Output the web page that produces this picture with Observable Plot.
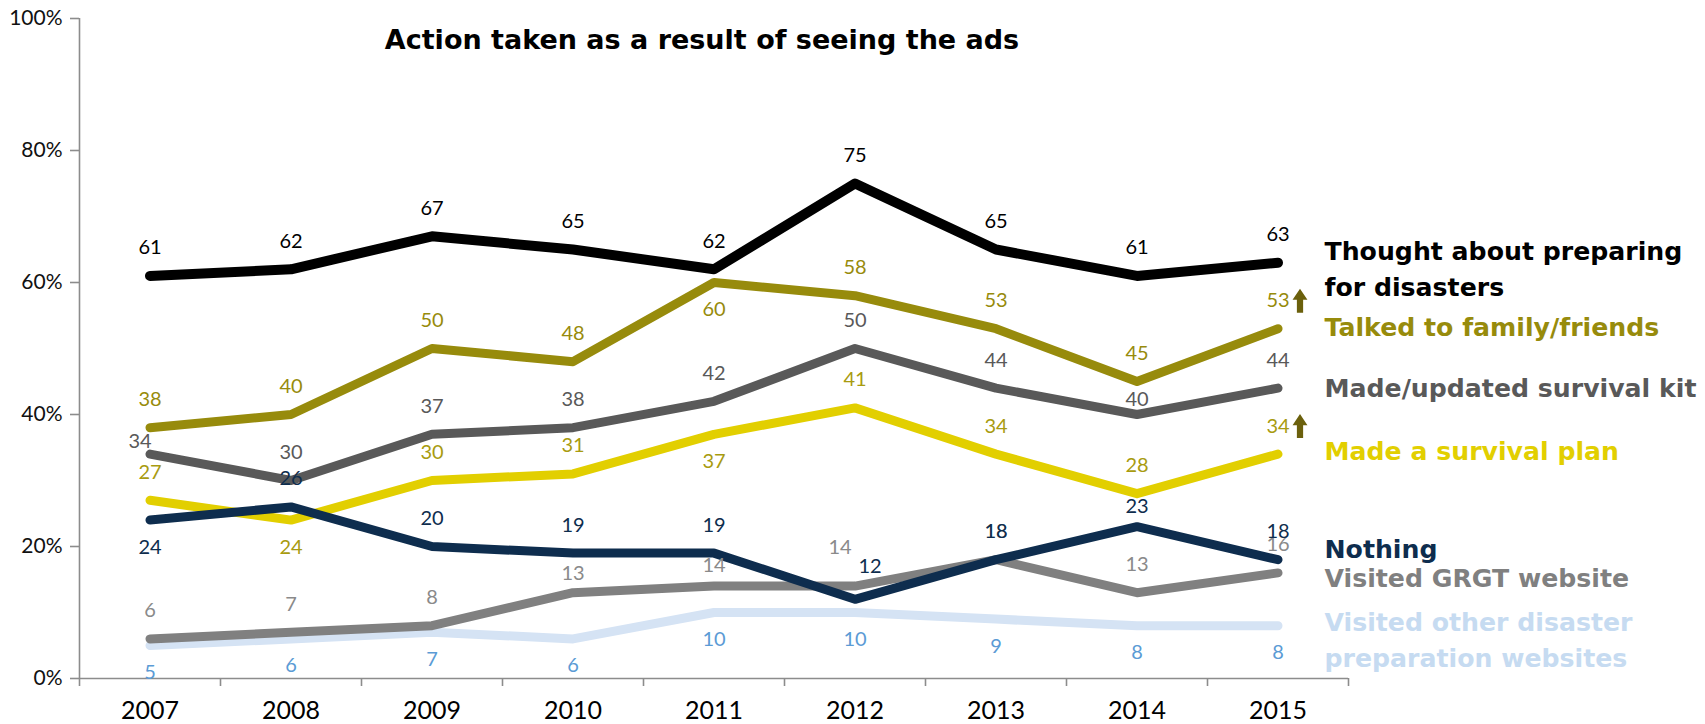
<!DOCTYPE html>
<html>
<head>
<meta charset="utf-8">
<script src="https://cdn.jsdelivr.net/npm/d3@7"></script>
<script src="https://cdn.jsdelivr.net/npm/@observablehq/plot@0.6"></script>
<style>
  html, body { margin: 0; padding: 0; background: #fff; }
  #chart svg { display: block; }
</style>
</head>
<body>
<div id="chart"></div>
<script>
// ---------------- data ----------------
const years = ["2007", "2008", "2009", "2010", "2011", "2012", "2013", "2014", "2015"];
const thoughtAboutPreparing = [61, 62, 67, 65, 62, 75, 65, 61, 63];
const talkedToFamilyFriends = [38, 40, 50, 48, 60, 58, 53, 45, 53];
const madeUpdatedSurvivalKit = [34, 30, 37, 38, 42, 50, 44, 40, 44];
const madeSurvivalPlan = [27, 24, 30, 31, 37, 41, 34, 28, 34];
const nothingDone = [24, 26, 20, 19, 19, 12, 18, 23, 18];
const visitedGRGTWebsite = [6, 7, 8, 13, 14, 14, 18, 13, 16];
const visitedOtherWebsites = [5, 6, 7, 6, 10, 10, 9, 8, 8];
const yTicks = [0, 20, 40, 60, 80, 100];
const chartTitle = "Action taken as a result of seeing the ads";
const seriesLabels = {
  thought: "Thought about preparing\nfor disasters",
  talked: "Talked to family/friends",
  kit: "Made/updated survival kit",
  plan: "Made a survival plan",
  nothing: "Nothing",
  grgt: "Visited GRGT website",
  other: "Visited other disaster\npreparation websites"
};
// years where the value label sits below the line
const labelsBelow = {
  talked: ["2011"],
  plan: ["2008", "2011"],
  nothing: ["2007"],
  other: years
};
// series marked with a significant-increase arrow in the last year
const significantIncrease = ["talked", "plan"];

// ---------------- styles / layout ----------------
const styles = {
  other:   {values: visitedOtherWebsites,   line: "#d5e3f4", label: "#5b9bd5", legend: "#c6dbf1", width: 9,  legendAt: 8.0},
  grgt:    {values: visitedGRGTWebsite,     line: "#808080", label: "#8a8a8a", legend: "#808080", width: 9,  legendAt: 14.6},
  plan:    {values: madeSurvivalPlan,       line: "#e2cf00", label: "#a89b10", legend: "#e2cf00", width: 9,  legendAt: 33.9},
  kit:     {values: madeUpdatedSurvivalKit, line: "#595959", label: "#595959", legend: "#595959", width: 9,  legendAt: 43.4},
  talked:  {values: talkedToFamilyFriends,  line: "#978b0c", label: "#978b0c", legend: "#978b0c", width: 9,  legendAt: 52.7},
  thought: {values: thoughtAboutPreparing,  line: "#000000", label: "#000000", legend: "#000000", width: 10, legendAt: 64.2},
  nothing: {values: nothingDone,            line: "#0e2d4e", label: "#0e2d4e", legend: "#0e2d4e", width: 9,  legendAt: 19.0}
};
const drawOrder = ["other", "grgt", "plan", "kit", "talked", "thought", "nothing"];
// pixel nudges for crowded value labels: [dx, dy]
const labelNudge = {
  "kit 2007": [-10, -13],
  "kit 2014": [0, -15],
  "grgt 2010": [0, -19],
  "grgt 2011": [0, -21],
  "grgt 2012": [-15, -39],
  "nothing 2012": [15, -33],
  "nothing 2014": [0, -20]
};

const rows = drawOrder.flatMap((key) =>
  styles[key].values.map((v, i) => {
    const below = (labelsBelow[key] || []).includes(years[i]);
    const nudge = labelNudge[key + " " + years[i]] || (below ? [0, 27] : [0, -28]);
    return {
      key,
      year: years[i],
      xi: i + 0.5,
      value: v,
      ndx: nudge[0],
      ndy: nudge[1],
      labelColor: styles[key].label
    };
  })
);
const nudgeGroups = d3.groups(rows, (d) => d.ndx + "," + d.ndy);
const legendRows = drawOrder.map((key) => ({
  key, text: seriesLabels[key], y: styles[key].legendAt, color: styles[key].legend
}));
const arrowRows = rows.filter((d) => d.year === years[years.length - 1] && significantIncrease.includes(d.key));

// block up-arrow symbol
const upArrow = {
  draw(context, size) {
    const r = Math.sqrt(size / Math.PI);
    context.moveTo(0, -r);
    context.lineTo(0.62 * r, -0.08 * r);
    context.lineTo(0.26 * r, -0.08 * r);
    context.lineTo(0.26 * r, r);
    context.lineTo(-0.26 * r, r);
    context.lineTo(-0.26 * r, -0.08 * r);
    context.lineTo(-0.62 * r, -0.08 * r);
    context.closePath();
  }
};

const axisColor = "#8c8c8c";
const numFont = "Lato";
const boldFont = "DejaVu Sans";

const chart = Plot.plot({
  width: 1705,
  height: 724,
  marginLeft: 79,
  marginRight: 357,
  marginTop: 18,
  marginBottom: 46,
  x: {type: "linear", domain: [0, years.length], axis: null, label: null},
  y: {domain: [0, 100], axis: null, label: null},
  color: {type: "identity"},
  style: {fontFamily: numFont, background: "#fff", overflow: "visible"},
  marks: [
    // axes
    Plot.ruleX([0], {y1: 0, y2: 100, stroke: axisColor, strokeWidth: 1.6}),
    Plot.ruleY([0], {x1: 0, x2: years.length, stroke: axisColor, strokeWidth: 1.6}),
    Plot.axisY({ticks: yTicks, tickFormat: (d) => d + "%", tickSize: 9, tickPadding: 8, label: null,
      fontSize: 21, stroke: axisColor, strokeWidth: 1.6, fill: "#111", fontFamily: numFont}),
    Plot.axisX({ticks: d3.range(years.length + 1), tickSize: 8, tickFormat: () => "", label: null,
      stroke: axisColor, strokeWidth: 1.6}),
    Plot.axisX({ticks: years.map((_, i) => i + 0.5), tickFormat: (d) => years[Math.round(d - 0.5)],
      tickSize: 0, tickPadding: 23, fontSize: 25, fill: "#000", fontFamily: numFont, label: null}),
    // lines
    ...drawOrder.map((key) =>
      Plot.line(rows.filter((d) => d.key === key), {
        x: "xi", y: "value", stroke: styles[key].line, strokeWidth: styles[key].width,
        strokeLinecap: "round", strokeLinejoin: "round"
      })
    ),
    // value labels
    ...nudgeGroups.map(([, group]) =>
      Plot.text(group, {
        x: "xi", y: "value", text: (d) => String(d.value), fill: "labelColor",
        dx: group[0].ndx, dy: group[0].ndy, fontSize: 20, fontFamily: numFont
      })
    ),
    // significance arrows
    Plot.dot(arrowRows, {
      x: "xi", y: "value", dx: 22, dy: -28, r: 12, symbol: upArrow,
      fill: "#6b600c", stroke: null
    }),
    // series labels at the right
    Plot.text(legendRows, {
      x: years.length, y: "y", text: "text", fill: "color", dx: -24, dy: -21,
      textAnchor: "start", lineAnchor: "top", lineHeight: 1.45,
      fontSize: 25.2, fontWeight: "bold", fontFamily: boldFont
    }),
    // title
    Plot.text([chartTitle], {
      frameAnchor: "top", lineAnchor: "middle", dx: -12, dy: 22,
      fontSize: 27, fontWeight: "bold", fontFamily: boldFont, fill: "#000"
    })
  ]
});

document.getElementById("chart").appendChild(chart);
</script>
</body>
</html>
